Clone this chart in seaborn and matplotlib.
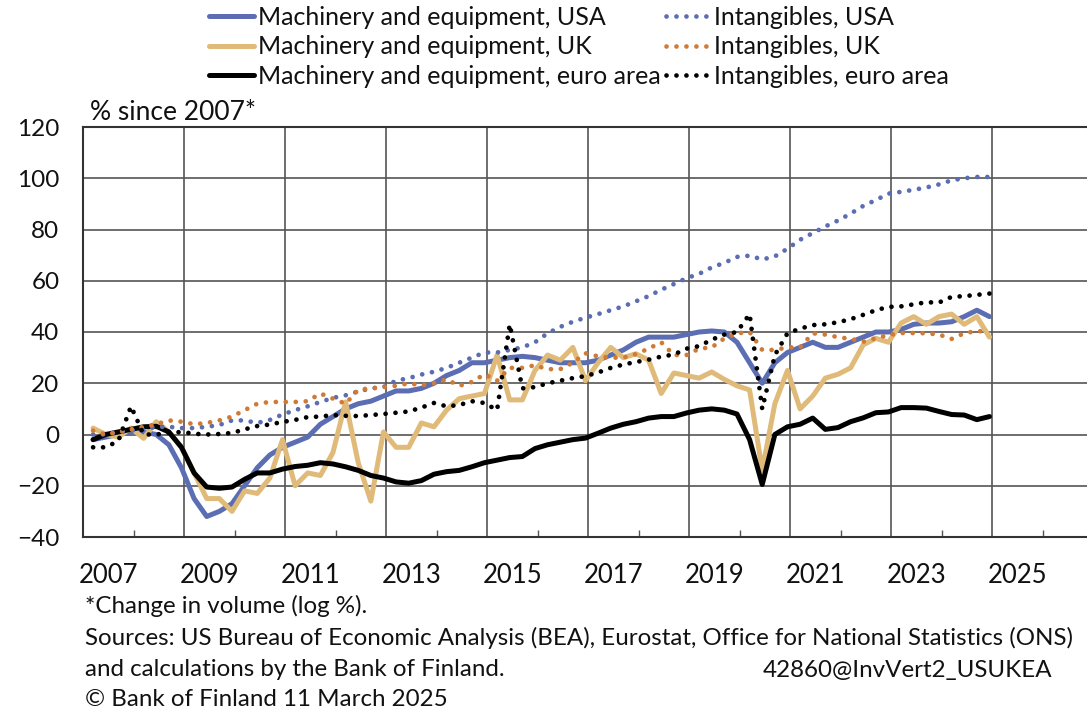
import numpy as np
import pandas as pd
import matplotlib
matplotlib.use("Agg")
import matplotlib.pyplot as plt
import matplotlib.transforms as mtransforms
import seaborn as sns

# Quarterly data 2007Q1 .. 2024Q4 (% since 2007, log change in volume)
years = list(range(2007, 2025))
quarters = [f"{y}Q{q}" for y in years for q in range(1, 5)]

me_usa = [-2, -1, 0, 1, 1, 0, -4, -13, -25, -32, -30, -27,
          -20, -13, -8, -5, -3, -1, 4, 7, 10, 12, 13, 15,
          17, 17, 18, 20, 23, 25, 28, 28, 29, 30, 30.5, 30,
          29, 28, 28, 28, 29, 31, 33, 36, 38, 38, 38, 39,
          40, 40.4, 40, 36, 28, 20, 28, 32, 34, 36, 34, 34,
          36, 38, 40, 40, 41, 43, 43.5, 43.5, 44, 46, 48.5, 46]

me_uk = [2.5, 0, -1, 2.5, -1.5, 5, 1, -5, -15, -25, -25, -30,
         -22, -23, -17, -2, -20, -15, -16, -7, 12.7, -11, -26, 1,
         -5, -5, 4.5, 3, 9.5, 14, 15, 16, 31, 13.5, 13.5, 25,
         31, 29, 34, 21, 28, 34, 30, 31.5, 29, 16, 24, 23,
         22, 24.4, 21.5, 19, 17.4, -14, 12, 25, 10, 15, 22, 23.5,
         26, 35, 37.5, 36, 43.5, 46, 43, 46, 47, 43, 46, 38]

me_ea = [-2, 0, 1, 2, 3, 3.2, 1, -5, -15, -20.5, -21, -20.5,
         -17.5, -15, -15, -13.5, -12.5, -12, -11, -11.5, -12.6, -14, -16, -17,
         -18.5, -19, -18, -15.5, -14.5, -14, -12.6, -11, -10, -9, -8.6, -5.5,
         -4, -3, -2, -1.4, 0.5, 2.5, 4, 5, 6.4, 7, 7, 8.4,
         9.5, 10, 9.5, 8, -2, -19.5, 0, 3, 4, 6.4, 2, 2.7,
         5, 6.5, 8.5, 8.8, 10.5, 10.5, 10.3, 9, 7.8, 7.6, 5.8, 7]

int_usa = [0, 0, 1, 1.5, 2, 3, 3, 2.5, 2.5, 3, 3.7, 5.5,
           5.5, 4.5, 5.7, 7.8, 9.5, 11, 12.7, 14.3, 15.3, 16.8, 18, 18.5,
           21, 22, 23.4, 24.5, 26, 28, 30, 32, 32, 33, 34, 36,
           39.5, 42, 44, 45.6, 47, 48.5, 50, 52, 54, 56.5, 58.7, 61,
           62.7, 65.2, 67, 69.3, 69.8, 68.3, 69.5, 72.5, 76, 78.6, 81.2, 83.5,
           86.2, 89.2, 91.5, 94, 94.7, 95.5, 96.4, 97.6, 99.2, 100, 100.5, 100.5]

int_uk = [1.5, 0, 1, 2, 3, 4, 5.5, 5, 4, 4.5, 5.5, 7,
          9.5, 12, 12.7, 12.7, 12.7, 13, 16, 14, 12, 17.5, 18, 18.5,
          19, 20, 19.2, 20, 21.5, 19, 20.5, 23.5, 21, 26, 26, 27,
          25.5, 25.5, 28, 31.7, 30.5, 30, 30, 31.4, 33.5, 36, 31, 31,
          33.5, 34, 37.5, 39.5, 40, 33, 33, 34, 34, 39.5, 39, 38,
          37.3, 36.2, 37.6, 38.8, 39.6, 39.6, 39.5, 39, 37.3, 39.5, 40.4, 40]

int_ea = [-5, -5, -2.5, 11, 0, 0, 0.6, 1, 0.3, 0, 0.2, 0.6,
          2, 3.3, 3.9, 4.9, 5.7, 6.8, 7, 7.6, 7.3, 7.2, 7.6, 8,
          8.5, 9, 10.5, 12.3, 11, 11.5, 13, 12.3, 9.5, 43, 18, 18.5,
          20, 21, 22, 22.8, 24.2, 26, 27.3, 28.3, 29.2, 30.4, 31.2, 33.5,
          34.5, 37, 39, 40, 47, 10, 31, 39.5, 41.3, 42.7, 43, 43.8,
          45, 46.7, 48.5, 49.8, 50, 50.8, 51.6, 51.5, 53.7, 54, 54.5, 55]

labels = ["Machinery and equipment, USA", "Machinery and equipment, UK",
          "Machinery and equipment, euro area", "Intangibles, USA",
          "Intangibles, UK", "Intangibles, euro area"]
series = [me_usa, me_uk, me_ea, int_usa, int_uk, int_ea]
colors = ["#5B6DB3", "#E0BA78", "#000000", "#5B6DB3", "#D07B35", "#000000"]
solid = [True, True, True, False, False, False]

year_labels = [str(y) for y in range(2007, 2026, 2)]

# numeric time position of each quarter
qx = np.array([int(q[:4]) + (int(q[-1]) - 1) * 0.25 + 0.2 for q in quarters])

sns.set_theme(style="white")
plt.rcParams['font.family'] = ['Lato', 'DejaVu Sans']

fig = plt.figure(figsize=(10.87, 7.16), dpi=100)
W, H = 1087, 716
ax = fig.add_axes([83 / W, (H - 537) / H, (W - 83) / W, (537 - 127) / H])

for lab, vals, col, sol in zip(labels, series, colors, solid):
    df = pd.DataFrame({"t": qx, "v": vals})
    if sol:
        sns.lineplot(data=df, x="t", y="v", ax=ax, color=col, lw=3.6,
                     label=lab, solid_capstyle="round", solid_joinstyle="round")
    else:
        sns.lineplot(data=df, x="t", y="v", ax=ax, color=col, lw=3.4,
                     linestyle=(0, (0.01, 2.1)), dash_capstyle="round",
                     label=lab)

ax.set_xlim(2007, 2007 + (W - 83) / 50.5)
ax.set_ylim(-40, 120)
ax.set_yticks(range(-40, 121, 20))
ax.set_xticks(range(2009, 2027, 2))
ax.set_xticklabels([])
ax.set_xticks(range(2008, 2027, 2), minor=True)
ax.grid(True, which="major", color="#555555", lw=1.2)
ax.set_axisbelow(True)
ax.tick_params(axis="y", length=0, pad=17, labelsize=17.5, labelcolor="#111111")
ax.tick_params(axis="x", which="major", length=0)
ax.tick_params(axis="x", which="minor", direction="in", length=5, width=1,
               color="#555555", bottom=True)
for s in ["left", "bottom", "top"]:
    ax.spines[s].set_color("#333333")
    ax.spines[s].set_linewidth(1.5)
ax.spines["right"].set_visible(False)
ax.set_xlabel("")
ax.set_ylabel("")

trans = mtransforms.blended_transform_factory(ax.transData, ax.transAxes)
for yl in year_labels:
    ax.text(int(yl) + 0.5, -0.093, yl, transform=trans, ha="center", va="center",
            fontsize=18.5, color="#111111")

leg = ax.legend(loc="upper left", bbox_to_anchor=(209 / W, 1 - 6 / H), bbox_transform=fig.transFigure,
                ncol=2, frameon=False, fontsize=18, handlelength=1.8,
                handletextpad=0.15, columnspacing=0.2, labelspacing=0.26,
                borderpad=0.0, borderaxespad=0.0)
for t in leg.get_texts():
    t.set_color("#111111")

fig.text(90 / W, 1 - 112 / H, "% since 2007*", fontsize=19, va="center", ha="left", color="#111111")
fs = 17.4
fig.text(85 / W, 1 - 606 / H, "*Change in volume (log %).", fontsize=fs, va="center", color="#111111")
fig.text(85 / W, 1 - 638 / H,
         "Sources: US Bureau of Economic Analysis (BEA), Eurostat, Office for National Statistics (ONS)",
         fontsize=fs, va="center", color="#111111")
fig.text(85 / W, 1 - 670 / H, "and calculations by the Bank of Finland.", fontsize=fs,
         va="center", color="#111111")
fig.text(1052 / W, 1 - 670 / H, "42860@InvVert2_USUKEA", fontsize=fs, va="center",
         ha="right", color="#111111")
fig.text(85 / W, 1 - 700 / H, "© Bank of Finland 11 March 2025", fontsize=fs, va="center",
         color="#111111")

fig.savefig("out.png", dpi=100)
